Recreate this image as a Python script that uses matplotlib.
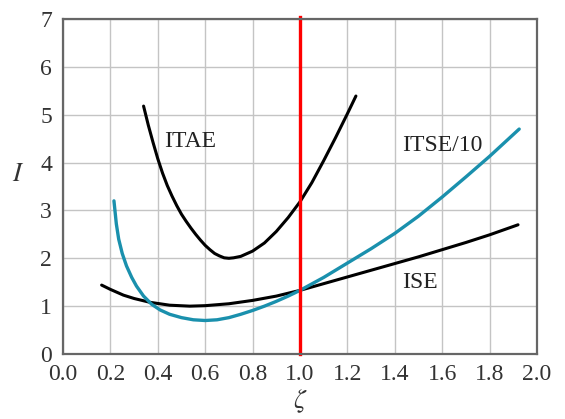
import numpy as np
import matplotlib.pyplot as plt

# curves
itae_x = [0.34, 0.36, 0.38, 0.40, 0.42, 0.44, 0.46, 0.48, 0.50, 0.52, 0.54, 0.56, 0.58, 0.60, 0.62, 0.64,
          0.66, 0.68, 0.70, 0.72, 0.75, 0.80, 0.85, 0.90, 0.95, 1.00, 1.05, 1.10, 1.15, 1.20, 1.236]
itae_y = [5.18, 4.78, 4.42, 4.08, 3.78, 3.52, 3.30, 3.10, 2.92, 2.77, 2.63, 2.50, 2.38, 2.27, 2.18, 2.10,
          2.05, 2.01, 2.00, 2.01, 2.04, 2.15, 2.32, 2.56, 2.85, 3.18, 3.58, 4.04, 4.52, 5.02, 5.39]

itse_x = [0.215, 0.225, 0.235, 0.25, 0.268, 0.29, 0.31, 0.34, 0.374, 0.41, 0.45, 0.50, 0.55, 0.60, 0.65,
          0.70, 0.75, 0.80, 0.85, 0.90, 0.95, 1.00, 1.10, 1.20, 1.30, 1.40, 1.50, 1.60, 1.70, 1.80, 1.925]
itse_y = [3.20, 2.72, 2.40, 2.10, 1.84, 1.60, 1.42, 1.21, 1.04, 0.92, 0.83, 0.76, 0.715, 0.70, 0.715,
          0.76, 0.83, 0.91, 1.00, 1.10, 1.21, 1.33, 1.60, 1.90, 2.20, 2.52, 2.88, 3.28, 3.70, 4.13, 4.70]

ise_x = [0.163, 0.20, 0.255, 0.30, 0.367, 0.45, 0.535, 0.60, 0.70, 0.80, 0.90, 1.00,
         1.10, 1.20, 1.30, 1.40, 1.50, 1.60, 1.70, 1.80, 1.92]
ise_y = [1.44, 1.35, 1.23, 1.16, 1.08, 1.02, 1.00, 1.01, 1.05, 1.12, 1.21, 1.33,
         1.47, 1.61, 1.75, 1.89, 2.03, 2.18, 2.33, 2.49, 2.70]

labels = ['ITAE', 'ITSE/10', 'ISE']
label_pos = [(0.536, 4.43), (1.60, 4.35), (1.505, 1.50)]

plt.rcParams['font.family'] = ['Liberation Serif', 'DejaVu Serif']
plt.rcParams['mathtext.fontset'] = 'stix'

fig = plt.figure(figsize=(5.65, 4.19), dpi=100)
ax = fig.add_axes([0.1115, 0.1551, 0.8389, 0.7996])

ax.plot(itae_x, itae_y, color='black', lw=2.2, solid_capstyle='round')
ax.plot(ise_x, ise_y, color='black', lw=2.2, solid_capstyle='round')
ax.plot(itse_x, itse_y, color='#1a90ad', lw=2.4, solid_capstyle='round')
ax.axvline(1.0, ymin=0, ymax=1.006, color='#ff0000', lw=2.4, clip_on=False)

for txt, (x, y) in zip(labels, label_pos):
    ax.text(x, y, txt, fontsize=17, ha='center', va='center', color='#222222')

ax.set_xlim(0, 2.0)
ax.set_ylim(0, 7)
ax.set_xticks(np.arange(0, 2.01, 0.2))
ax.set_xticklabels(['%.1f' % v for v in np.arange(0, 2.01, 0.2)])
ax.set_yticks(range(8))
ax.grid(True, color='#c4c4c4', lw=1.0)
ax.tick_params(length=0, labelsize=17, colors='#333333')
ax.tick_params(axis='x', pad=7)
ax.tick_params(axis='y', pad=8)
for s in ax.spines.values():
    s.set_color('#666666')
    s.set_linewidth(1.6)

ax.set_ylabel('$I$', fontsize=19, rotation=0, labelpad=16, color='#333333')
ax.set_xlabel(r'$\zeta$', fontsize=19, labelpad=2, color='#333333')

fig.savefig('out.png', dpi=100)
